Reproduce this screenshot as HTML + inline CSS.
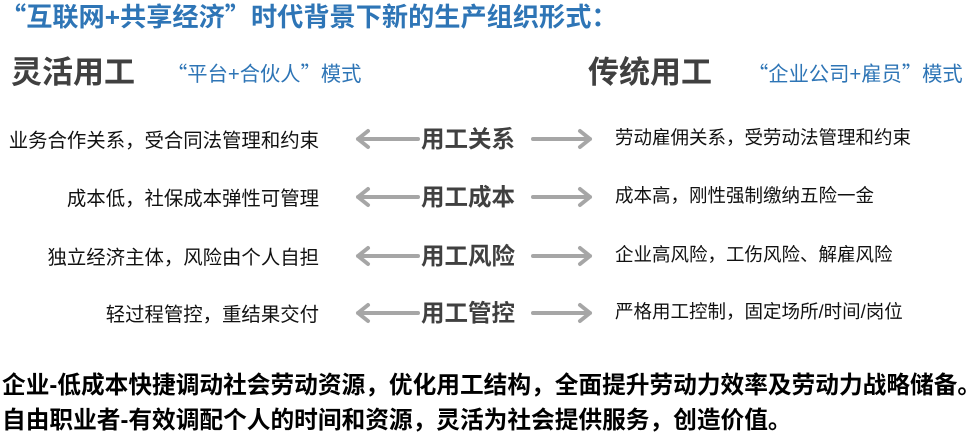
<!DOCTYPE html>
<html><head><meta charset="utf-8"><style>
body{margin:0;width:970px;height:438px;background:#fff;position:relative;overflow:hidden;font-family:"Liberation Sans","Noto Sans CJK SC",sans-serif;}
.a{position:absolute;white-space:nowrap;}
.q{font-family:"Noto Sans CJK SC",sans-serif;}
.t{color:#2e75b6;font-weight:bold;font-size:26.2px;left:0;top:-4px;}
.h{color:#404040;font-weight:bold;font-size:31px;}
.s{color:#2e75b6;font-size:20.3px;}
.l{font-size:19.4px;color:#111;text-align:right;width:319px;left:0;}
.r{font-size:18.5px;color:#111;left:615px;}
.c{font-weight:bold;font-size:23.5px;color:#404040;left:421px;}
.b{font-weight:bold;font-size:23.7px;color:#000;left:2px;}
</style></head><body>
<div class="a t"><span class="q">“</span>互联网+共享经济<span class="q">”</span>时代背景下新的生产组织形式：</div>
<div class="a h" style="left:11px;top:47px">灵活用工</div>
<div class="a s" style="left:167px;top:57px"><span class="q">“</span>平台+合伙人<span class="q">”</span>模式</div>
<div class="a h" style="left:588px;top:47px">传统用工</div>
<div class="a s" style="left:748px;top:57px"><span class="q">“</span>企业公司+雇员<span class="q">”</span>模式</div>

<div class="a l" style="top:124px">业务合作关系，受合同法管理和约束</div>
<div class="a l" style="top:182px">成本低，社保成本弹性可管理</div>
<div class="a l" style="top:241px">独立经济主体，风险由个人自担</div>
<div class="a l" style="top:298px">轻过程管控，重结果交付</div>

<div class="a c" style="top:120px">用工关系</div>
<div class="a c" style="top:178px">用工成本</div>
<div class="a c" style="top:237px">用工风险</div>
<div class="a c" style="top:294px">用工管控</div>

<div class="a r" style="top:124px">劳动雇佣关系，受劳动法管理和约束</div>
<div class="a r" style="top:182px">成本高，刚性强制缴纳五险一金</div>
<div class="a r" style="top:241px">企业高风险，工伤风险、解雇风险</div>
<div class="a r" style="top:298px">严格用工控制，固定场所/时间/岗位</div>

<svg class="a" style="left:0;top:0" width="970" height="438">
<g stroke="#a6a6a6" stroke-width="4" fill="none" stroke-linecap="round" stroke-linejoin="round">
<g id="row"><path d="M358 139H418M368 131L358 139L368 147"/><path d="M533 139H590M580 131L590 139L580 147"/></g>
<use href="#row" y="58"/><use href="#row" y="117"/><use href="#row" y="174"/>
</g></svg>

<div class="a b" style="top:366px">企业-低成本快捷调动社会劳动资源，优化用工结构，全面提升劳动力效率及劳动力战略储备。</div>
<div class="a b" style="top:401px">自由职业者-有效调配个人的时间和资源，灵活为社会提供服务，创造价值。</div>
</body></html>
